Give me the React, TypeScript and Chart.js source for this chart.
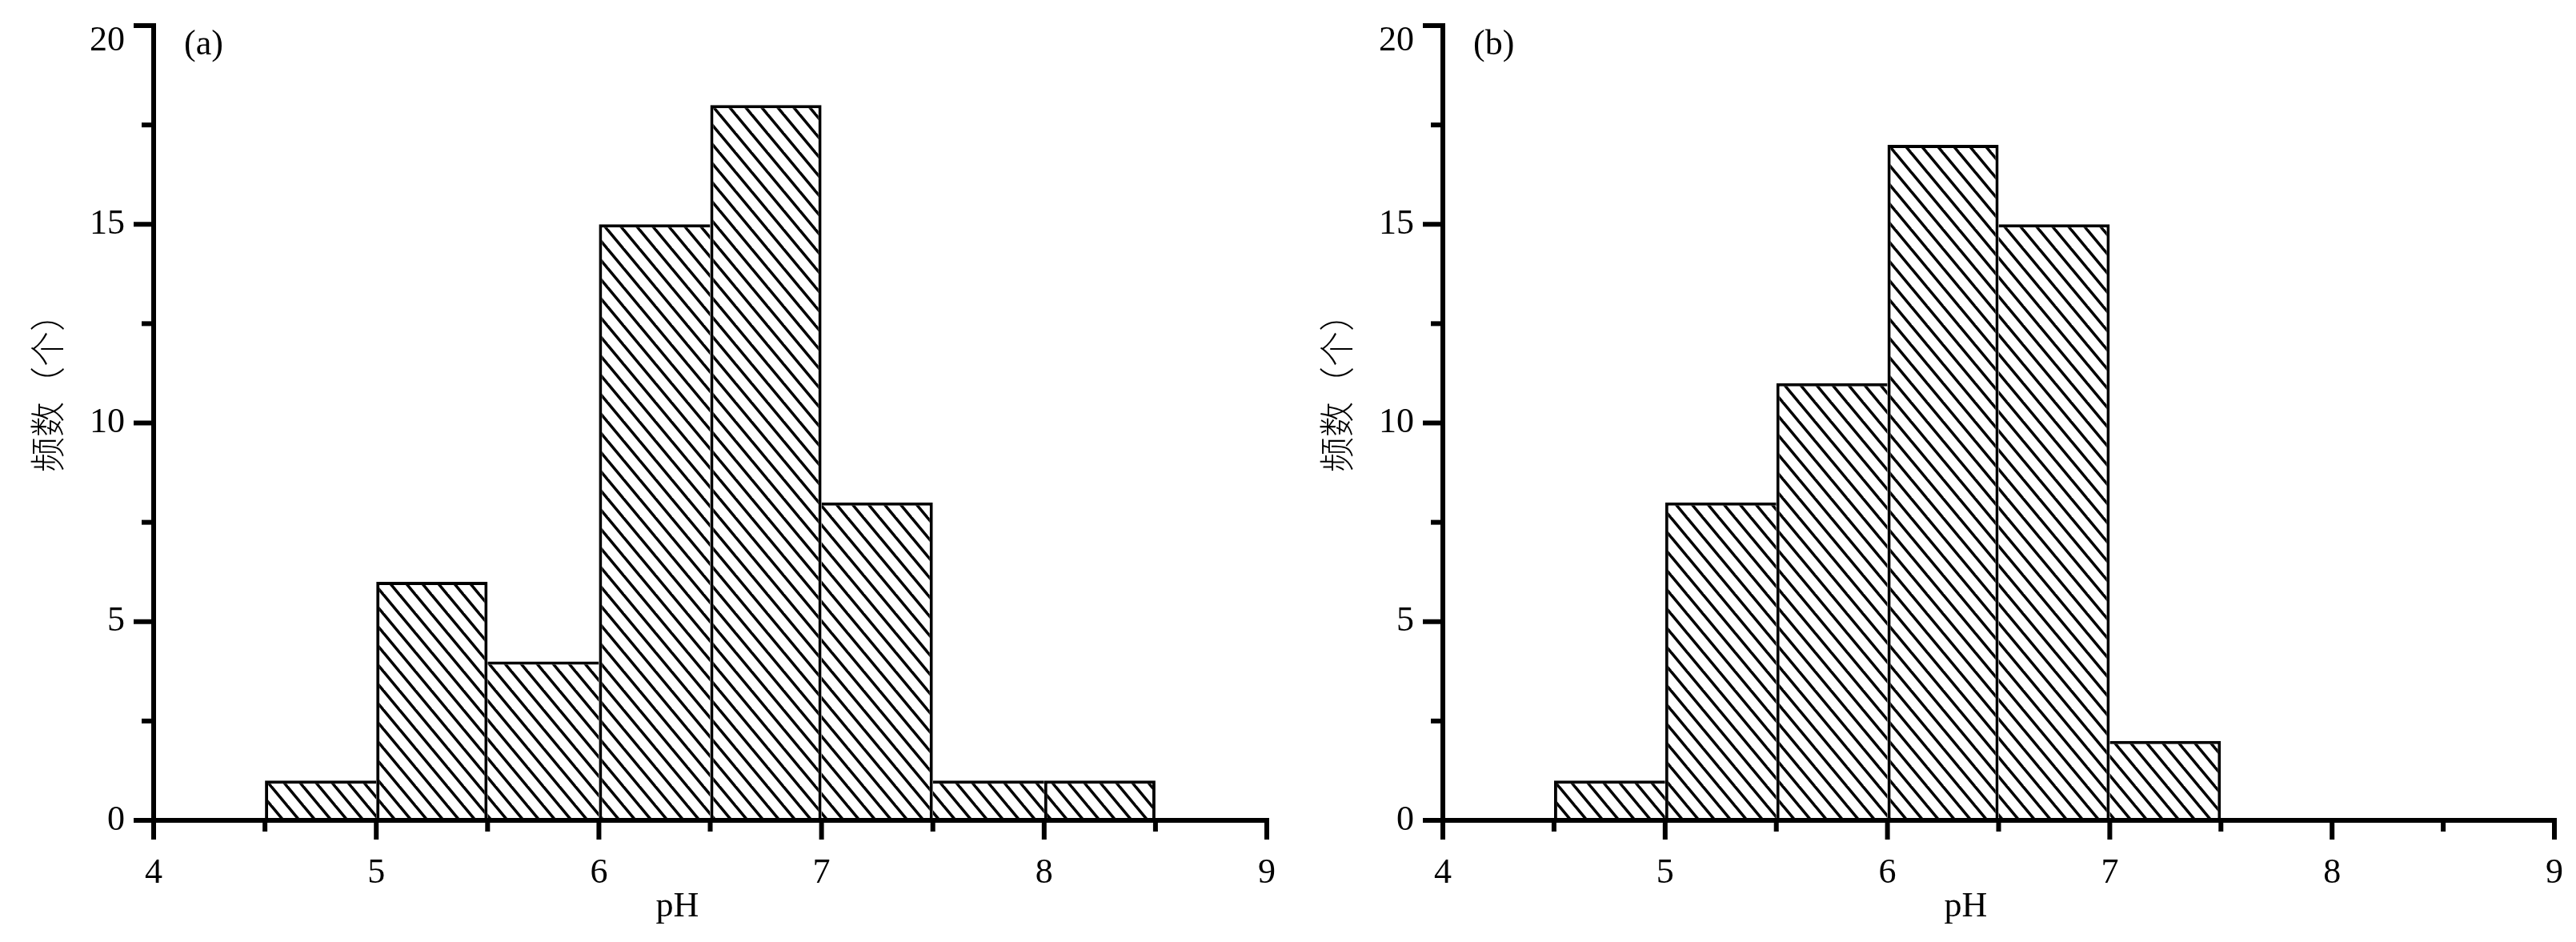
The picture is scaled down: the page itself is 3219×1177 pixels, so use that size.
import React, { useEffect, useRef } from 'react';
import { Chart, registerables } from 'chart.js';
Chart.register(...registerables);

// ---- data ----
const binCentersA = [4.75, 5.25, 5.75, 6.25, 6.75, 7.25, 7.75, 8.25];
const countsA = [1, 6, 4, 15, 18, 8, 1, 1];
const binCentersB = [4.75, 5.25, 5.75, 6.25, 6.75, 7.25];
const countsB = [1, 8, 11, 17, 15, 2];
const xMajorTicks = [4, 5, 6, 7, 8, 9];
const xMinorTicks = [4.5, 5.5, 6.5, 7.5, 8.5];
const yMajorTicks = [0, 5, 10, 15, 20];
const yMinorTicks = [2.5, 7.5, 12.5, 17.5];
const panelLabels = ['(a)', '(b)'];
const xTitle = 'pH';
const yTitle = '频数（个）';

const SERIF = "'Liberation Serif', 'Times New Roman', serif";
const CJK = "'Noto Sans CJK SC', 'Liberation Serif', sans-serif";

function makeHatch(): CanvasPattern | string {
  const w = 20, h = 24;
  const c = document.createElement('canvas');
  c.width = w; c.height = h;
  const g = c.getContext('2d');
  if (!g) return '#fff';
  g.fillStyle = '#fff';
  g.fillRect(0, 0, w, h);
  g.strokeStyle = '#000';
  g.lineWidth = 3.6;
  for (let i = -2; i <= 2; i++) {
    g.beginPath();
    g.moveTo(i * w - w, -h);
    g.lineTo(i * w + 2 * w, 2 * h);
    g.stroke();
  }
  const p = g.createPattern(c, 'repeat');
  return p || '#fff';
}

function zeroPadding(s: any) {
  s.paddingTop = 0;
  s.paddingBottom = 0;
  s.paddingLeft = 0;
  s.paddingRight = 0;
}

function HistPanel({ centers, counts, label, left, width, axisLeft, axisRight }: any) {
  const ref = useRef<HTMLCanvasElement>(null);
  useEffect(() => {
    const canvas = ref.current;
    if (!canvas) return;
    const top = 32;
    const bottomY = 1025;
    const H = 1177;
    const yMax = yMajorTicks[yMajorTicks.length - 1];
    const hatch = makeHatch();
    const plugin = {
      id: 'customAxes',
      afterDraw(chart: any) {
        const ctx = chart.ctx;
        const xs = chart.scales.x;
        const ys = chart.scales.y;
        const ax = xs.getPixelForValue(xs.min);
        const ay = ys.getPixelForValue(0);
        const yTop = ys.getPixelForValue(yMax);
        const xEnd = xs.getPixelForValue(xs.max);
        ctx.save();
        ctx.strokeStyle = '#000';
        ctx.lineWidth = 6;
        ctx.lineCap = 'butt';
        // y axis line
        ctx.beginPath();
        ctx.moveTo(ax, yTop - 3);
        ctx.lineTo(ax, ay + 3);
        ctx.stroke();
        // x axis line
        ctx.beginPath();
        ctx.moveTo(ax - 3, ay);
        ctx.lineTo(xEnd + 3, ay);
        ctx.stroke();
        // y ticks
        yMajorTicks.forEach((v) => {
          const py = ys.getPixelForValue(v);
          ctx.beginPath();
          ctx.moveTo(ax, py);
          ctx.lineTo(ax - 25, py);
          ctx.stroke();
        });
        yMinorTicks.forEach((v) => {
          const py = ys.getPixelForValue(v);
          ctx.beginPath();
          ctx.moveTo(ax, py);
          ctx.lineTo(ax - 15, py);
          ctx.stroke();
        });
        // x ticks
        xMajorTicks.forEach((v) => {
          const px = xs.getPixelForValue(v);
          ctx.beginPath();
          ctx.moveTo(px, ay);
          ctx.lineTo(px, ay + 24);
          ctx.stroke();
        });
        xMinorTicks.forEach((v) => {
          const px = xs.getPixelForValue(v);
          ctx.beginPath();
          ctx.moveTo(px, ay);
          ctx.lineTo(px, ay + 14);
          ctx.stroke();
        });
        ctx.fillStyle = '#000';
        ctx.font = `44px ${SERIF}`;
        // top y tick label (sits slightly below its tick in the original)
        ctx.textAlign = 'right';
        ctx.textBaseline = 'middle';
        ctx.fillText(String(yMax), ax - 36, yTop + 19);
        // panel label
        ctx.textAlign = 'left';
        ctx.fillText(label, ax + 38, 56);
        // x title
        ctx.textAlign = 'center';
        ctx.fillText(xTitle, (ax + xEnd) / 2 - 41, 1133);
        // y title
        ctx.save();
        ctx.translate(ax - 133, 480);
        ctx.rotate(-Math.PI / 2);
        ctx.font = `300 44px ${CJK}`;
        ctx.textAlign = 'center';
        ctx.textBaseline = 'middle';
        ctx.fillText(yTitle, 0, 0);
        ctx.restore();
        ctx.restore();
      },
    };

    const chart = new Chart(canvas, {
      type: 'bar',
      data: {
        datasets: [
          {
            data: centers.map((c: number, i: number) => ({ x: c, y: counts[i] })),
            backgroundColor: hatch as any,
            borderColor: '#000',
            borderSkipped: false,
            borderWidth: (ctx: any) => {
              const i = ctx.dataIndex;
              const v = counts[i];
              const prev = i > 0 ? counts[i - 1] : -1;
              const next = i < counts.length - 1 ? counts[i + 1] : -1;
              return {
                top: 4,
                bottom: 0,
                left: prev <= v ? 4 : 0,
                right: next < v ? 4 : 0,
              };
            },
            barPercentage: 1,
            categoryPercentage: 1,
            inflateAmount: 0,
          } as any,
        ],
      },
      options: {
        animation: false,
        responsive: false,
        maintainAspectRatio: false,
        layout: { padding: { left: 0, right: width - axisRight, top: top, bottom: 0 } },
        plugins: { legend: { display: false }, tooltip: { enabled: false } },
        scales: {
          x: {
            type: 'linear',
            offset: false,
            min: 4,
            max: 9,
            grid: { display: false, drawTicks: false, tickLength: 0 },
            border: { display: false },
            ticks: {
              stepSize: 1,
              autoSkip: false,
              maxRotation: 0,
              padding: 40,
              color: '#000',
              font: { family: SERIF, size: 44 },
            },
            afterFit: (s: any) => {
              s.height = H - bottomY;
              zeroPadding(s);
            },
          },
          y: {
            type: 'linear',
            min: 0,
            max: yMax,
            grid: { display: false, drawTicks: false, tickLength: 0 },
            border: { display: false },
            ticks: {
              stepSize: 5,
              padding: 36,
              color: '#000',
              font: { family: SERIF, size: 44 },
              callback: (v: any) => (v === yMax ? '' : String(v)),
            },
            afterFit: (s: any) => {
              s.width = axisLeft;
              zeroPadding(s);
            },
          },
        },
      },
      plugins: [plugin],
    } as any);
    return () => chart.destroy();
  }, []);
  return (
    <canvas
      ref={ref}
      width={width}
      height={1177}
      style={{ position: 'absolute', left, top: 0, width, height: 1177 }}
    />
  );
}

export default function App() {
  return (
    <div style={{ position: 'absolute', left: 0, top: 0, width: 3219, height: 1177, background: '#fff' }}>
      <HistPanel centers={binCentersA} counts={countsA} label={panelLabels[0]} left={0} width={1609} axisLeft={192} axisRight={1583} />
      <HistPanel centers={binCentersB} counts={countsB} label={panelLabels[1]} left={1609} width={1610} axisLeft={194} axisRight={1583} />
    </div>
  );
}
